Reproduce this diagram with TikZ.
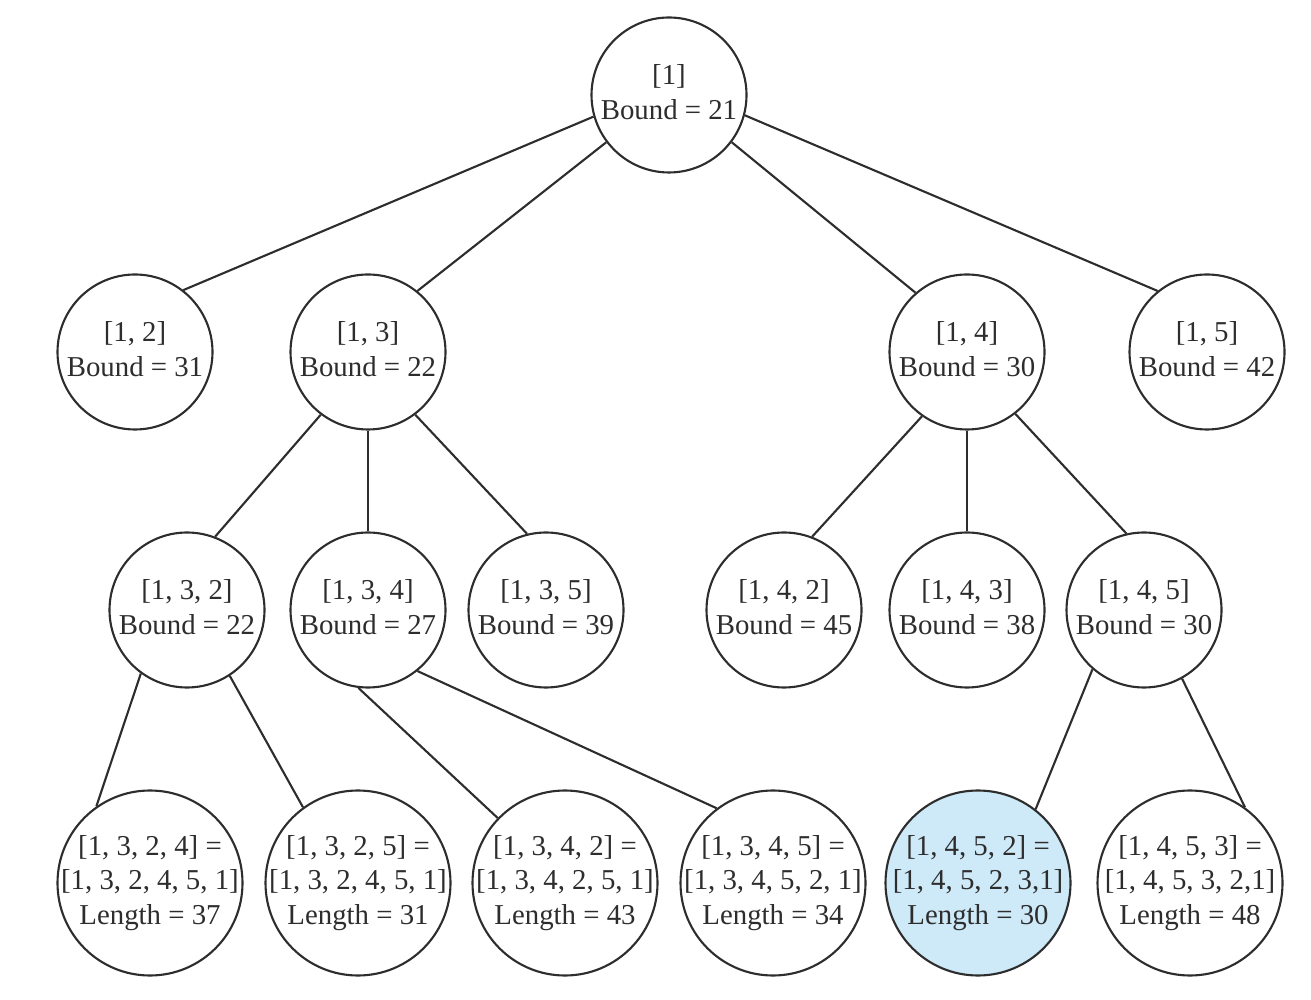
\documentclass[tikz,border=0pt]{standalone}
\usepackage{fontspec}
\setmainfont{Liberation Serif}
\usepackage{tikz}

\definecolor{leafblue}{RGB}{206,234,248}
\definecolor{inkgray}{RGB}{45,45,45}
\newcommand{\ntext}[1]{\makebox[0pt]{\begin{tabular}{@{}c@{}}#1\end{tabular}}}

\begin{document}
\begin{tikzpicture}[
    every node/.style={text=inkgray, font=\fontsize{8.2}{9.9}\selectfont},
    bnode/.style={circle, draw=inkgray, line width=0.6pt, inner sep=0pt, minimum size=1.55cm},
    lnode/.style={bnode, minimum size=1.85cm},
    tour/.style={lnode, fill=leafblue},
    edge/.style={draw=inkgray, line width=0.6pt}]
  \useasboundingbox (0,0) rectangle (13.11,-10);
  % Tell it where the nodes are
  \node[bnode] (root) at (6.69,-0.95) {\ntext{[1]\\ Bound = 21}};
  \node[bnode] (a12) at (1.35,-3.52) {\ntext{[1, 2]\\ Bound = 31}};
  \node[bnode] (a13) at (3.68,-3.52) {\ntext{[1, 3]\\ Bound = 22}};
  \node[bnode] (a14) at (9.67,-3.52) {\ntext{[1, 4]\\ Bound = 30}};
  \node[bnode] (a15) at (12.07,-3.52) {\ntext{[1, 5]\\ Bound = 42}};
  \node[bnode] (a132) at (1.87,-6.10) {\ntext{[1, 3, 2]\\ Bound = 22}};
  \node[bnode] (a134) at (3.68,-6.10) {\ntext{[1, 3, 4]\\ Bound = 27}};
  \node[bnode] (a135) at (5.46,-6.10) {\ntext{[1, 3, 5]\\ Bound = 39}};
  \node[bnode] (a142) at (7.84,-6.10) {\ntext{[1, 4, 2]\\ Bound = 45}};
  \node[bnode] (a143) at (9.67,-6.10) {\ntext{[1, 4, 3]\\ Bound = 38}};
  \node[bnode] (a145) at (11.44,-6.10) {\ntext{[1, 4, 5]\\ Bound = 30}};
  \node[lnode] (l1) at (1.50,-8.83) {\ntext{[1, 3, 2, 4] =\\{}[1, 3, 2, 4, 5, 1]\\ Length = 37}};
  \node[lnode] (l2) at (3.58,-8.83) {\ntext{[1, 3, 2, 5] =\\{}[1, 3, 2, 4, 5, 1]\\ Length = 31}};
  \node[lnode] (l3) at (5.65,-8.83) {\ntext{[1, 3, 4, 2] =\\{}[1, 3, 4, 2, 5, 1]\\ Length = 43}};
  \node[lnode] (l4) at (7.73,-8.83) {\ntext{[1, 3, 4, 5] =\\{}[1, 3, 4, 5, 2, 1]\\ Length = 34}};
  \node[tour] (l5) at (9.78,-8.83) {\ntext{[1, 4, 5, 2] =\\{}[1, 4, 5, 2, 3,1]\\ Length = 30}};
  \node[lnode] (l6) at (11.90,-8.83) {\ntext{[1, 4, 5, 3] =\\{}[1, 4, 5, 3, 2,1]\\ Length = 48}};
  % Tell it what edges to draw
  \draw[edge] (root.196) -- (a12.52);
  \draw[edge] (root.217) -- (a13.51);
  \draw[edge] (root.323) -- (a14.131);
  \draw[edge] (root.345) -- (a15.129);
  \draw[edge] (a13.233) -- (a132.69);
  \draw[edge] (a13.south) -- (a134.north);
  \draw[edge] (a13.307) -- (a135.104);
  \draw[edge] (a14.235) -- (a142.69);
  \draw[edge] (a14.south) -- (a143.north);
  \draw[edge] (a14.308) -- (a145.103);
  \draw[edge] (a132.234) -- (l1.125);
  \draw[edge] (a132.303) -- (l2.126);
  \draw[edge] (a134.263) -- (l3.136);
  \draw[edge] (a134.309) -- (l4.127);
  \draw[edge] (a145.229) -- (l5.52);
  \draw[edge] (a145.299) -- (l6.54);
\end{tikzpicture}
\end{document}
